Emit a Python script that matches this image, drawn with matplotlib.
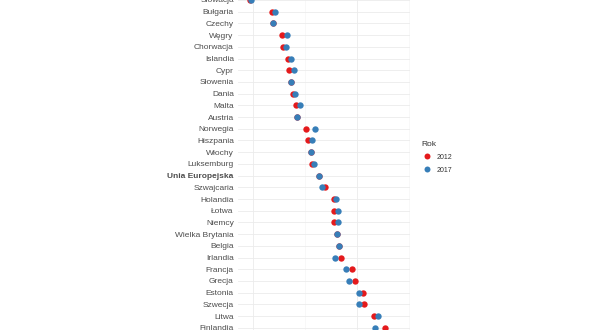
import matplotlib.pyplot as plt

plt.rcParams['font.family'] = ['Liberation Sans', 'DejaVu Sans']

# rows from top to bottom
kraje = ['Słowacja', 'Bułgaria', 'Czechy', 'Węgry', 'Chorwacja', 'Islandia', 'Cypr',
         'Słowenia', 'Dania', 'Malta', 'Austria', 'Norwegia', 'Hiszpania', 'Włochy',
         'Luksemburg', 'Unia Europejska', 'Szwajcaria', 'Holandia', 'Łotwa', 'Niemcy',
         'Wielka Brytania', 'Belgia', 'Irlandia', 'Francja', 'Grecja', 'Estonia',
         'Szwecja', 'Litwa', 'Finlandia']
w2012 = [19.4, 23.6, 23.8, 25.5, 25.8, 26.8, 26.9, 27.4, 27.6, 28.3, 28.5, 30.2, 30.5, 31.15,
         31.3, 32.6, 33.8, 35.5, 35.5, 35.6, 36.2, 36.6, 36.9, 39.0, 39.6, 41.15, 41.4, 43.3, 45.4]
w2017 = [19.6, 24.2, 23.8, 26.6, 26.4, 27.25, 27.9, 27.4, 28.0, 29.0, 28.5, 32.0, 31.4, 31.15,
         31.7, 32.6, 33.3, 35.9, 36.3, 36.3, 36.2, 36.6, 35.7, 37.9, 38.4, 40.3, 40.4, 44.0, 43.5]
lata = ['2012', '2017']
kolory = ['#E41A1C', '#377EB8']

fig = plt.figure(figsize=(6, 3.3), dpi=100)
ax = fig.add_axes([238 / 600, 0, 172 / 600, 1])

y = list(range(len(kraje)))
ax.scatter(w2012, y, s=21, color=kolory[0], zorder=3, clip_on=False, linewidths=0)
ax.scatter(w2017, y, s=21, color=kolory[1], zorder=4, clip_on=False, linewidths=0)

ax.set_xlim(17.115, 50.19)
ax.set_ylim(28.19, 0.22)

ax.set_yticks(y)
ax.set_yticklabels(kraje)
for lab in ax.get_yticklabels():
    if lab.get_text() == 'Unia Europejska':
        lab.set_fontweight('bold')
        lab.set_color('#222222')
ax.tick_params(axis='y', length=0, pad=3, labelsize=6, labelcolor='#4D4D4D')

ax.set_xticks([20, 40])
ax.set_xticks([30, 50], minor=True)
ax.tick_params(axis='x', which='both', length=0, labelbottom=False)

ax.grid(True, which='major', color='#EBEBEB', linewidth=0.6)
ax.grid(True, which='minor', axis='x', color='#F3F3F3', linewidth=0.4)
ax.set_axisbelow(True)
for s in ax.spines.values():
    s.set_visible(False)

uchwyty = [plt.Line2D([], [], marker='o', linestyle='', markersize=4.3,
                      markerfacecolor=c, markeredgewidth=0) for c in kolory]
leg = fig.legend(uchwyty, lata, title='Rok', loc='upper left',
                 bbox_to_anchor=(419 / 600, 1 - 138 / 330), frameon=False,
                 fontsize=5, title_fontsize=6, handletextpad=0.6,
                 labelspacing=0.85, handlelength=1.6, borderaxespad=0)
leg._legend_box.align = 'left'
for t in leg.get_texts():
    t.set_color('#333333')
leg.get_title().set_color('#333333')

fig.savefig('out.png', dpi=100)
